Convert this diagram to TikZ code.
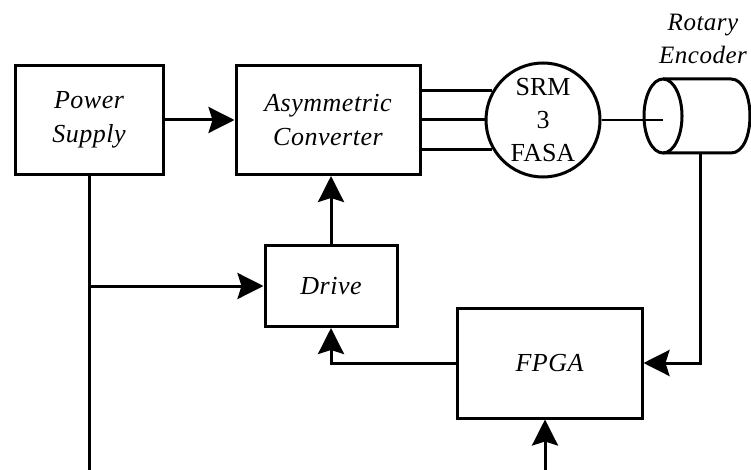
\documentclass[tikz,border=0pt]{standalone}
\usepackage{fontspec}
\setmainfont{Liberation Serif}
\usetikzlibrary{calc, arrows.meta}

\begin{document}
\begin{tikzpicture}[x=1pt, y=-1pt]
  \tikzstyle{block} = [draw, line width=3pt, align=center, inner sep=0pt,
    font=\fontsize{26}{34}\selectfont\itshape\addfontfeature{LetterSpace=2}]
  \tikzstyle{wire} = [line width=3pt]
  \tikzstyle{flow} = [line width=3pt, -{Stealth[length=26pt, width=26pt, inset=4pt]}]
  \useasboundingbox[fill=white] (0, 0) rectangle (751, 470);

  % blocks
  \node[block, minimum width=148pt, minimum height=109pt] (psu) at (89, 120) {Power\\Supply};
  \node[block, minimum width=184pt, minimum height=109pt] (conv) at (328, 120) {Asymmetric\\Converter};
  \node[draw, circle, line width=3pt, minimum size=114pt, inner sep=0pt, align=center,
    font=\fontsize{26}{33}\selectfont] (srm) at (543, 120) {SRM\\3\\FASA};
  \node[block, minimum width=132pt, minimum height=81pt] (drive) at (331, 286) {Drive};
  \node[block, minimum width=185pt, minimum height=110pt] (fpga) at (549.5, 363) {FPGA};

  % encoder
  \coordinate (enc) at (663, 116);
  \coordinate (encb) at (700, 153);
  \draw[wire] (enc) ellipse [x radius=19pt, y radius=37pt];
  \draw[wire] (663, 79) -- (731, 79) .. controls (756.3, 79) and (756.3, 153) .. (731, 153) -- (663, 153);
  \node[align=center, font=\fontsize{25}{33}\selectfont\itshape\addfontfeature{LetterSpace=2}] (enclabel)
    at (703, 39) {Rotary\\Encoder};

  % free ends
  \coordinate (vin) at (89, 470);
  \coordinate (ctl) at (545, 470);

  % connections
  \draw[flow] (psu) -- (conv);
  \draw[wire] (conv.east |- srm.150) -- (srm.150);
  \draw[wire] (conv.east |- srm.west) -- (srm.west);
  \draw[wire] (conv.east |- srm.210) -- (srm.210);
  \draw[line width=2.2pt] (srm.east) -- (srm.east -| enc);
  \draw[flow] (drive.north) -- (drive.north |- conv.south);
  \draw[wire] (psu.south) -- (vin);
  \draw[flow] (psu.south |- drive.west) -- (drive.west);
  \draw[flow] (fpga.west) -| (drive.south);
  \draw[flow] (encb) |- (fpga.east);
  \draw[flow] (ctl) -- (ctl |- fpga.south);
\end{tikzpicture}
\end{document}
